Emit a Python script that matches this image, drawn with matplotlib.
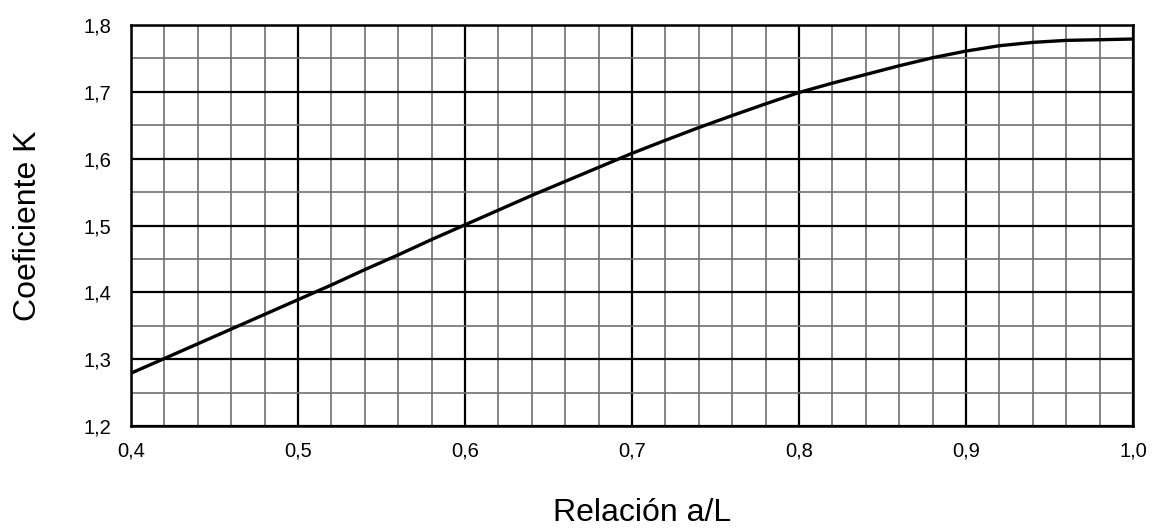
import matplotlib
matplotlib.use("Agg")
import matplotlib.pyplot as plt
from matplotlib.ticker import MultipleLocator, FuncFormatter

plt.rcParams['font.family'] = ['Liberation Sans', 'DejaVu Sans']

relacion = [0.40, 0.42, 0.44, 0.46, 0.48, 0.50, 0.52, 0.54, 0.56, 0.58,
            0.60, 0.62, 0.64, 0.66, 0.68, 0.70, 0.72, 0.74, 0.76, 0.78,
            0.80, 0.82, 0.84, 0.86, 0.88, 0.90, 0.92, 0.94, 0.96, 0.98, 1.00]
coef_k = [1.279, 1.301, 1.323, 1.345, 1.367, 1.389, 1.411, 1.434, 1.456, 1.479,
          1.501, 1.523, 1.545, 1.566, 1.587, 1.608, 1.6275, 1.6465, 1.6645, 1.682,
          1.699, 1.713, 1.726, 1.739, 1.751, 1.761, 1.769, 1.774, 1.777, 1.778, 1.779]

fig = plt.figure(figsize=(11.57, 5.31), dpi=100)
ax = fig.add_axes([131/1157, 1 - 426/531, (1133 - 131)/1157, (426 - 25)/531])

ax.set_xlim(0.4, 1.0)
ax.set_ylim(1.2, 1.8)
ax.xaxis.set_major_locator(MultipleLocator(0.1))
ax.xaxis.set_minor_locator(MultipleLocator(0.02))
ax.yaxis.set_major_locator(MultipleLocator(0.1))
ax.yaxis.set_minor_locator(MultipleLocator(0.05))
fmt = FuncFormatter(lambda v, p: f"{v:.1f}".replace('.', ','))
ax.xaxis.set_major_formatter(fmt)
ax.yaxis.set_major_formatter(fmt)

ax.grid(which='minor', color='#707070', linewidth=1.2)
ax.grid(which='major', color='black', linewidth=1.6)
ax.set_axisbelow(True)
ax.tick_params(which='both', length=0)
ax.tick_params(axis='x', pad=11, labelsize=14.5)
ax.tick_params(axis='y', pad=14, labelsize=14.5)
for s in ax.spines.values():
    s.set_linewidth(1.8)
    s.set_color('black')

ax.plot(relacion, coef_k, color='black', linewidth=2.4, solid_capstyle='butt')

ax.set_xlabel('Relación a/L', fontsize=23, labelpad=26)
ax.xaxis.set_label_coords((642 - 131) / 1002, -(513 - 426) / 401)
ax.xaxis.label.set_va('center')
ax.set_ylabel('Coeficiente K', fontsize=23, labelpad=29)

fig.savefig('out.png', dpi=100)
